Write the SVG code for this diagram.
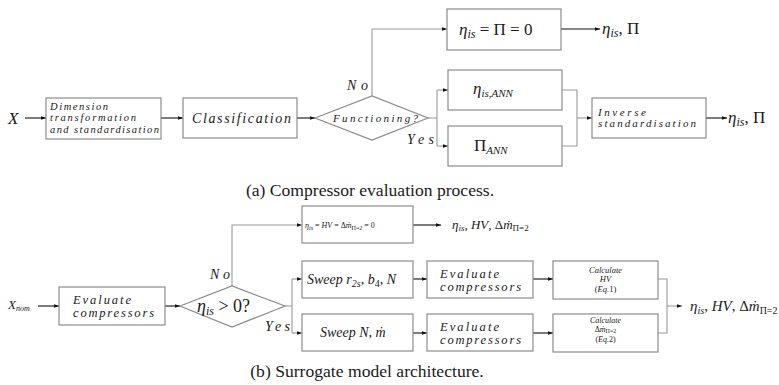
<svg xmlns="http://www.w3.org/2000/svg" width="779" height="385" viewBox="0 0 779 385" font-family="'Liberation Serif','Times New Roman',Times,'Noto Serif','DejaVu Serif',serif">
<style>
text{font-family:'Liberation Serif','Times New Roman',Times,'Noto Serif','DejaVu Serif',serif;fill:#1a1a1a}
.it{font-style:italic}
.box{fill:#fff;stroke:#8c8c8c;stroke-width:1.2}
.dk{fill:none;stroke:#111;stroke-width:1.1}
.gr{fill:none;stroke:#9a9a9a;stroke-width:1.1}
.cap{font-size:17.6px;text-anchor:middle}
.sub{font-style:italic}
</style>
<defs>
<marker id="ah" viewBox="0 0 6 6" refX="6" refY="3" markerWidth="5" markerHeight="5" orient="auto" markerUnits="userSpaceOnUse"><path d="M0,0.8 L6,3 L0,5.2 z" fill="#111"/></marker>
</defs>
<rect width="779" height="385" fill="#fff"/>

<g id="connectors">
<line class="dk" x1="25" y1="118" x2="46" y2="118" marker-end="url(#ah)"/>
<line class="dk" x1="161" y1="118" x2="183" y2="118" marker-end="url(#ah)"/>
<line class="dk" x1="297" y1="118" x2="315" y2="118" marker-end="url(#ah)"/>
<path class="gr" d="M372,96 V29 H447" marker-end="url(#ah)"/>
<line class="dk" x1="561" y1="29" x2="600" y2="29" marker-end="url(#ah)"/>
<path class="gr" d="M428,118 H437 M437,90 V146"/>
<path class="gr" d="M437,90 H448" marker-end="url(#ah)"/>
<path class="gr" d="M437,146 H448" marker-end="url(#ah)"/>
<path class="gr" d="M562,90 H577 V146 H562"/>
<path class="gr" d="M577,118 H592" marker-end="url(#ah)"/>
<line class="dk" x1="706" y1="118" x2="727" y2="118" marker-end="url(#ah)"/>
<line class="dk" x1="38" y1="306" x2="59" y2="306" marker-end="url(#ah)"/>
<line class="dk" x1="165" y1="306" x2="180" y2="306" marker-end="url(#ah)"/>
<path class="gr" d="M232,286 V225 H302" marker-end="url(#ah)"/>
<line class="dk" x1="413" y1="225" x2="441" y2="225" marker-end="url(#ah)"/>
<path class="gr" d="M285,306 H292 M292,279 V333"/>
<path class="gr" d="M292,279 H302" marker-end="url(#ah)"/>
<path class="gr" d="M292,333 H302" marker-end="url(#ah)"/>
<line class="dk" x1="413" y1="279" x2="427" y2="279" marker-end="url(#ah)"/>
<line class="dk" x1="413" y1="333" x2="427" y2="333" marker-end="url(#ah)"/>
<line class="dk" x1="533" y1="279" x2="553" y2="279" marker-end="url(#ah)"/>
<line class="dk" x1="533" y1="333" x2="553" y2="333" marker-end="url(#ah)"/>
<path class="gr" d="M658,279 H667 V333 H658"/>
<path class="gr" d="M667,306 H682" marker-end="url(#ah)"/>
</g>

<g id="in-a"><text x="8" y="124" class="it" font-size="17">X</text></g>
<g id="dimension">
<rect class="box" x="46" y="98" width="115" height="41"/>
<text class="it" font-size="10.5" x="50" y="109.5" textLength="58" lengthAdjust="spacing">Dimension</text>
<text class="it" font-size="10.5" x="50" y="121" textLength="86" lengthAdjust="spacing">transformation</text>
<text class="it" font-size="10.5" x="50" y="132.5" textLength="109" lengthAdjust="spacing">and standardisation</text>
</g>
<g id="classification">
<rect class="box" x="183" y="98" width="114" height="40"/>
<text class="it" font-size="14" x="192" y="123" textLength="99" lengthAdjust="spacing">Classification</text>
</g>
<g id="functioning">
<polygon class="box" points="315,118 372,96 428,118 372,140"/>
<text class="it" font-size="11" x="333" y="122" textLength="85" lengthAdjust="spacing">Functioning?</text>
<text class="it" font-size="14" x="347" y="90" textLength="21" lengthAdjust="spacing">No</text>
<text class="it" font-size="14" x="407" y="144" textLength="27" lengthAdjust="spacing">Yes</text>
</g>
<g id="zero-a">
<rect class="box" x="447" y="9" width="114" height="41"/>
<text font-size="17" x="459" y="35"><tspan class="it">η</tspan><tspan class="sub" font-size="12" dy="3">is</tspan><tspan dy="-3"> = Π = 0</tspan></text>
</g>
<g id="out-a1"><text font-size="17" x="602" y="34"><tspan class="it">η</tspan><tspan class="sub" font-size="12" dy="3">is</tspan><tspan dy="-3">, Π</tspan></text></g>
<g id="eta-ann">
<rect class="box" x="448" y="70" width="114" height="40"/>
<text font-size="17" x="473" y="94"><tspan class="it">η</tspan><tspan class="sub" font-size="11" dy="3">is,ANN</tspan></text>
</g>
<g id="pi-ann">
<rect class="box" x="448" y="126" width="114" height="40"/>
<text font-size="17" x="474" y="151">Π<tspan class="sub" font-size="11" dy="3">ANN</tspan></text>
</g>
<g id="inverse">
<rect class="box" x="592" y="98" width="114" height="40"/>
<text class="it" font-size="11" x="598" y="116" textLength="48" lengthAdjust="spacing">Inverse</text>
<text class="it" font-size="11" x="598" y="127" textLength="98" lengthAdjust="spacing">standardisation</text>
</g>
<g id="out-a2"><text font-size="17" x="728" y="123"><tspan class="it">η</tspan><tspan class="sub" font-size="12" dy="3">is</tspan><tspan dy="-3">, Π</tspan></text></g>

<g id="caption-a"><text class="cap" x="370" y="196">(a) Compressor evaluation process.</text></g>

<g id="in-b"><text font-size="13" x="8" y="309"><tspan class="it">X</tspan><tspan class="sub" font-size="8" dy="2">nom</tspan></text></g>
<g id="evaluate0">
<rect class="box" x="59" y="287" width="106" height="38"/>
<text class="it" font-size="12.5" x="73" y="303.5" textLength="58" lengthAdjust="spacing">Evaluate</text>
<text class="it" font-size="12.5" x="73" y="316.5" textLength="81" lengthAdjust="spacing">compressors</text>
</g>
<g id="eta-pos">
<polygon class="box" points="180,306 232,286 285,306 232,327"/>
<text font-size="18" x="197" y="312"><tspan class="it">η</tspan><tspan class="sub" font-size="12" dy="3">is</tspan><tspan dy="-3"> &gt; 0?</tspan></text>
<text class="it" font-size="14" x="210" y="279" textLength="20" lengthAdjust="spacing">No</text>
<text class="it" font-size="14" x="265" y="331" textLength="25" lengthAdjust="spacing">Yes</text>
</g>
<g id="zero-b">
<rect class="box" x="302" y="206" width="111" height="37"/>
<text font-size="8" x="305" y="228" fill="#444"><tspan class="it">η</tspan><tspan class="sub" font-size="6" dy="1.5">is</tspan><tspan dy="-1.5"> = </tspan><tspan class="it">HV</tspan><tspan> = Δ</tspan><tspan class="it">ṁ</tspan><tspan font-size="6" dy="1.5">Π=2</tspan><tspan dy="-1.5"> = 0</tspan></text>
</g>
<g id="out-b1"><text font-size="13" x="452" y="229"><tspan class="it">η</tspan><tspan class="sub" font-size="9" dy="2">is</tspan><tspan dy="-2">, </tspan><tspan class="it">HV</tspan><tspan>, Δ</tspan><tspan class="it">ṁ</tspan><tspan font-size="9" dy="2">Π=2</tspan></text></g>
<g id="sweep1">
<rect class="box" x="302" y="261" width="111" height="37"/>
<text font-size="14" x="307" y="284"><tspan class="it">Sweep r</tspan><tspan class="sub" font-size="10" dy="3">2s</tspan><tspan dy="-3">, </tspan><tspan class="it">b</tspan><tspan font-size="10" dy="3">4</tspan><tspan dy="-3">, </tspan><tspan class="it">N</tspan></text>
</g>
<g id="sweep2">
<rect class="box" x="302" y="314" width="111" height="37"/>
<text font-size="14" x="320" y="337"><tspan class="it">Sweep N</tspan><tspan>, </tspan><tspan class="it">ṁ</tspan></text>
</g>
<g id="evaluate1">
<rect class="box" x="427" y="261" width="106" height="37"/>
<text class="it" font-size="12.5" x="440" y="277.5" textLength="59" lengthAdjust="spacing">Evaluate</text>
<text class="it" font-size="12.5" x="440" y="290.5" textLength="81" lengthAdjust="spacing">compressors</text>
</g>
<g id="evaluate2">
<rect class="box" x="427" y="314" width="106" height="37"/>
<text class="it" font-size="12.5" x="440" y="330.5" textLength="59" lengthAdjust="spacing">Evaluate</text>
<text class="it" font-size="12.5" x="440" y="343.5" textLength="81" lengthAdjust="spacing">compressors</text>
</g>
<g id="calc-hv" font-size="8.5" text-anchor="middle">
<rect class="box" x="553" y="261" width="105" height="38"/>
<text class="it" x="605.5" y="273" fill="#333">Calculate</text>
<text class="it" x="605.5" y="282" fill="#333">HV</text>
<text x="605.5" y="291.5" fill="#333">(<tspan class="it">Eq.</tspan>1)</text>
</g>
<g id="calc-dm" font-size="8" text-anchor="middle">
<rect class="box" x="553" y="314" width="105" height="38"/>
<text class="it" x="605.5" y="323" fill="#333">Calculate</text>
<text x="605.5" y="331.5" fill="#333">Δ<tspan class="it">ṁ</tspan><tspan font-size="6" dy="1">Π=2</tspan></text>
<text x="605.5" y="341.5" fill="#333">(<tspan class="it">Eq.</tspan>2)</text>
</g>
<g id="out-b2"><text font-size="15" x="690" y="311"><tspan class="it">η</tspan><tspan class="sub" font-size="10" dy="3">is</tspan><tspan dy="-3">, </tspan><tspan class="it">HV</tspan><tspan>, Δ</tspan><tspan class="it">ṁ</tspan><tspan font-size="10" dy="3">Π=2</tspan></text></g>

<g id="caption-b"><text class="cap" x="367" y="377">(b) Surrogate model architecture.</text></g>
</svg>
